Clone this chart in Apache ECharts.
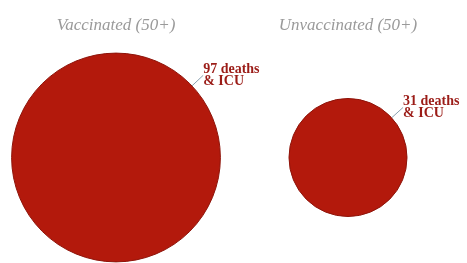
<!DOCTYPE html>
<html>
<head>
<meta charset="utf-8">
<script src="https://cdn.jsdelivr.net/npm/echarts@6/dist/echarts.min.js"></script>
<style>
    html, body { margin: 0; padding: 0; background: #fff; }
    #chart { width: 467px; height: 263px; }
</style>
</head>
<body>
<div id="chart"></div>
<script>
var groups = ['Vaccinated (50+)', 'Unvaccinated (50+)'];
var deaths = [97, 31];
var labelSuffix = 'deaths\n& ICU';

var circleColor = '#b3190c';
var labelColor = '#9b1c17';
var sizeScale = 21.2; // diameter per sqrt(value)

function initBubbleChart() {
    var myChart = echarts.init(document.getElementById('chart'));
    var data = groups.map(function (g, i) {
        return [i, 0, deaths[i]];
    });
    var option = {
        animation: false,
        grid: {
            left: 0,
            right: 3,
            top: 52,
            bottom: 0
        },
        xAxis: {
            type: 'category',
            position: 'top',
            data: groups,
            axisLine: { show: false },
            axisTick: { show: false },
            axisLabel: {
                margin: 18,
                fontFamily: 'Liberation Serif',
                fontStyle: 'italic',
                fontSize: 17,
                color: '#9a9a9a'
            }
        },
        yAxis: {
            type: 'category',
            data: [''],
            show: false
        },
        series: [
            {
                type: 'scatter',
                data: data,
                symbol: 'circle',
                symbolSize: function (val) {
                    return Math.sqrt(val[2]) * sizeScale;
                },
                itemStyle: {
                    color: circleColor,
                    borderColor: '#8e140a',
                    borderWidth: 1,
                    opacity: 1
                },
                label: {
                    show: true,
                    formatter: function (p) {
                        return p.value[2] + ' ' + labelSuffix;
                    },
                    fontFamily: 'Liberation Serif',
                    fontWeight: 'bold',
                    fontSize: 14,
                    lineHeight: 12,
                    color: labelColor
                },
                labelLayout: function (p) {
                    var r = p.rect.width / 2;
                    var cx = p.rect.x + r;
                    var cy = p.rect.y + r;
                    return {
                        x: cx + r * 0.707 + 13,
                        y: cy - r * 0.707 - 20,
                        align: 'left',
                        verticalAlign: 'top'
                    };
                },
                labelLine: {
                    show: true,
                    lineStyle: { color: '#8aa0b0', width: 1 }
                }
            }
        ]
    };
    myChart.setOption(option);
}

initBubbleChart();
</script>
</body>
</html>
